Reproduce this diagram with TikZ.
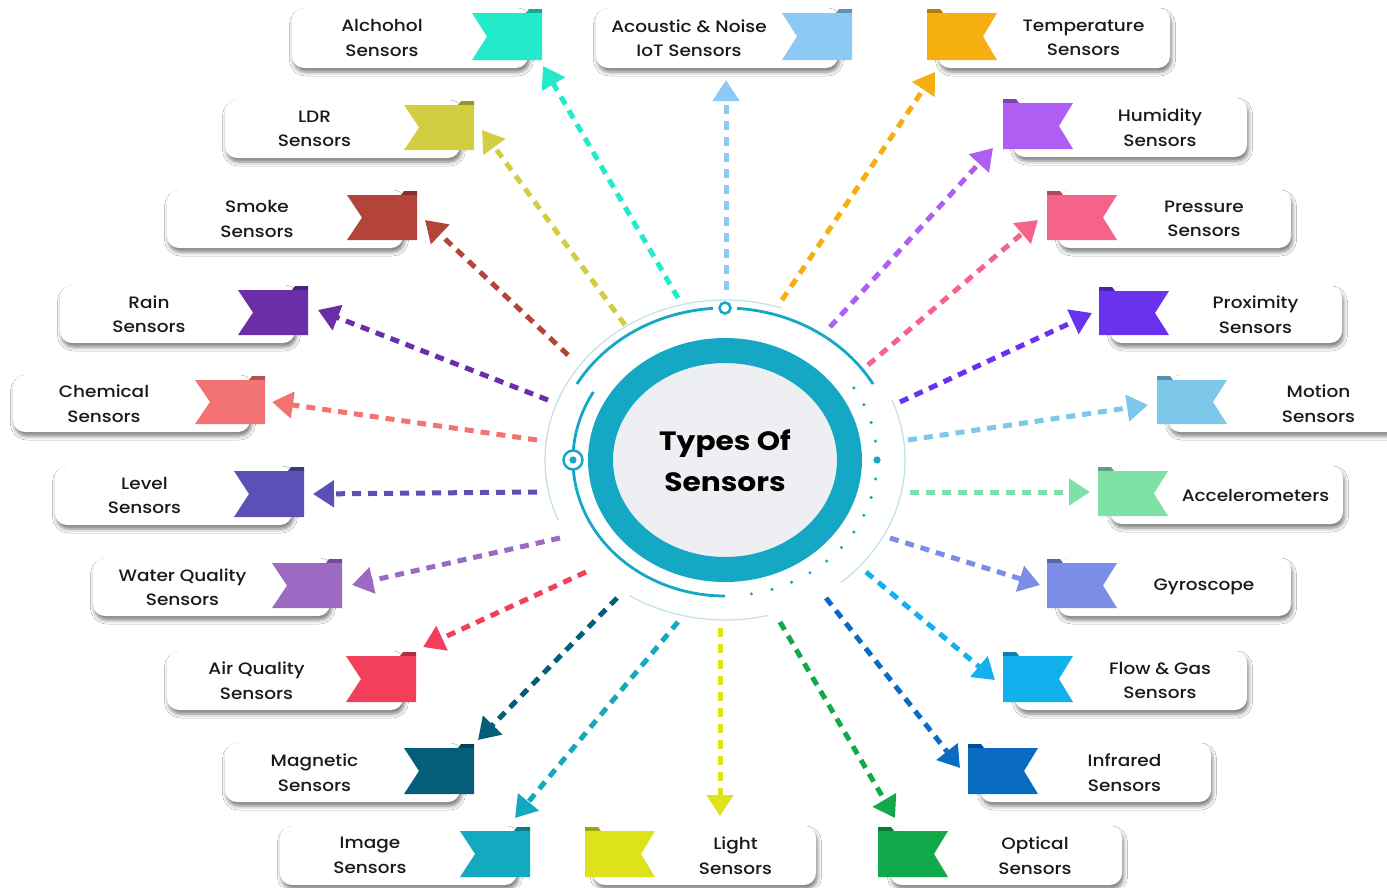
\documentclass[tikz,border=0pt]{standalone}
\usepackage{fontspec}
\setmainfont{Poppins}[FakeStretch=1.12]
\newfontfamily\labelfont{Poppins Medium}[FakeStretch=1.12]
\usetikzlibrary{arrows.meta,shadows.blur}
\definecolor{txt}{HTML}{1A1A1A}
\definecolor{ringc}{HTML}{14A8C4}
\definecolor{thinc}{HTML}{C3E0E8}
\definecolor{diskc}{HTML}{EEEFF2}
\definecolor{cAlc}{HTML}{22EACA}
\definecolor{cAco}{HTML}{8DC9F5}
\definecolor{cLdr}{HTML}{D3CD42}
\definecolor{cSmk}{HTML}{B4443A}
\definecolor{cRain}{HTML}{6B2EA6}
\definecolor{cChem}{HTML}{F37373}
\definecolor{cLvl}{HTML}{5A50B5}
\definecolor{cWq}{HTML}{9C6AC3}
\definecolor{cAq}{HTML}{F2405A}
\definecolor{cMag}{HTML}{055E79}
\definecolor{cImg}{HTML}{13A9BE}
\definecolor{cLgt}{HTML}{DDE21B}
\definecolor{cTmp}{HTML}{F6AF10}
\definecolor{cHum}{HTML}{AF5EF4}
\definecolor{cPrs}{HTML}{F6638A}
\definecolor{cPrx}{HTML}{6832EE}
\definecolor{cMot}{HTML}{7DC8EA}
\definecolor{cAcc}{HTML}{7EE1A7}
\definecolor{cGyr}{HTML}{7A8DE7}
\definecolor{cFlw}{HTML}{12B1EE}
\definecolor{cIr}{HTML}{0A6BC3}
\definecolor{cOpt}{HTML}{12A94B}
\tikzset{
  sbox/.style={rectangle, rounded corners=12pt, fill=white, inner sep=0pt,
    blur shadow={shadow xshift=1.5pt, shadow yshift=-4pt, shadow blur radius=4pt, shadow opacity=52}},
  stext/.style={font=\labelfont\fontsize{16.5}{24.5}\selectfont, text=txt, align=center, inner sep=0pt},
  conn/.style={line width=5pt, dash pattern=on 9pt off 7pt, -{Triangle[length=21pt,width=26pt]}},
}
% box with ribbon on its right end
\newcommand{\sensL}[8]{%
  \node[sbox, minimum width={(#4-#2)*1pt}, minimum height={(#5-#3)*1pt}] (#1) at ({(#2+#4)/2},{(#3+#5)/2}) {};
  \fill[#7!72!black] ({#6+54},{#3+5}) -- ({#6+57},{#3+1}) -- ({#6+70},{#3+1}) -- ({#6+70},{#3+5}) -- cycle;
  \fill[#7] (#6,{#3+5}) -- ({#6+70},{#3+5}) -- ({#6+70},{#5-8}) -- (#6,{#5-8}) -- ({#6+15},{(#3+#5)/2-1.5}) -- cycle;
  \node[stext] (#1-t) at ({(#2+#6)/2},{(#3+#5)/2}) {#8};
}
% box with ribbon on its left end
\newcommand{\sensR}[8]{%
  \node[sbox, minimum width={(#4-#2)*1pt}, minimum height={(#5-#3)*1pt}] (#1) at ({(#2+#4)/2},{(#3+#5)/2}) {};
  \fill[#7!72!black] (#6,{#3+1}) -- ({#6+13},{#3+1}) -- ({#6+16},{#3+5}) -- (#6,{#3+5}) -- cycle;
  \fill[#7] (#6,{#3+5}) -- ({#6+70},{#3+5}) -- ({#6+56},{(#3+#5)/2-1.5}) -- ({#6+70},{#5-8}) -- (#6,{#5-8}) -- cycle;
  \node[stext] (#1-t) at ({(#6+70+#4)/2},{(#3+#5)/2}) {#8};
}
\begin{document}
\begin{tikzpicture}[x=1pt,y=-1pt]
\fill[white] (0,0) rectangle (1387,887);
\useasboundingbox (0,0) rectangle (1387,887);

% ---- hub ----
\begin{scope}[shift={(725,460)}, yscale=-1]
  \draw[thinc, line width=1.2pt] (72:180 and 160) arc[start angle=72, end angle=202, x radius=180, y radius=160];
  \draw[thinc, line width=1.2pt] (22:180 and 160) arc[start angle=22, end angle=-50, x radius=180, y radius=160];
  \draw[thinc, line width=1.2pt] (-122:180 and 160) arc[start angle=-122, end angle=-76, x radius=180, y radius=160];
  \draw[ringc, line width=2.8pt] (30:171 and 152) arc[start angle=30, end angle=86, x radius=171, y radius=152];
  \draw[ringc, line width=2.8pt] (94:171 and 152) arc[start angle=94, end angle=150, x radius=171, y radius=152];
  \draw[ringc, line width=2.8pt] (150:152 and 136) arc[start angle=150, end angle=270, x radius=152, y radius=136];
  \foreach \a in {32,24,...,-80} \fill[ringc] (\a:152 and 136) circle (1.7);
  \fill[ringc] (0:152 and 136) circle (3.6);
  \draw[ringc, line width=2.5pt, fill=white] (0,152) circle (5.5);
  \draw[ringc, line width=2.5pt, fill=white] (-152,0) circle (9.5);
  \fill[ringc] (-152,0) circle (3.6);
  \fill[diskc] (0,0) ellipse [x radius=118, y radius=103];
  \draw[ringc, line width=25pt] (0,0) ellipse [x radius=124.5, y radius=109.5];
\end{scope}
\node[font=\fontsize{26.5}{41}\selectfont\bfseries, text=black, align=center] (title) at (725,461) {Types Of\\Sensors};

% ---- connector end points ----
\coordinate (s-alc) at (678,298);  \coordinate (e-alc) at (543,66);
\coordinate (s-aco) at (726,290);  \coordinate (e-aco) at (726,80);
\coordinate (s-ldr) at (625,325);  \coordinate (e-ldr) at (482,130);
\coordinate (s-smk) at (568,355);  \coordinate (e-smk) at (425,220);
\coordinate (s-rain) at (548,400); \coordinate (e-rain) at (318,310);
\coordinate (s-chem) at (537,440); \coordinate (e-chem) at (272,402);
\coordinate (s-lvl) at (537,492);  \coordinate (e-lvl) at (313,494);
\coordinate (s-wq) at (560,538);   \coordinate (e-wq) at (352,585);
\coordinate (s-aq) at (586,572);   \coordinate (e-aq) at (423,647);
\coordinate (s-mag) at (617,598);  \coordinate (e-mag) at (478,740);
\coordinate (s-img) at (678,622);  \coordinate (e-img) at (515,818);
\coordinate (s-lgt) at (720,628);  \coordinate (e-lgt) at (720,816);
\coordinate (s-tmp) at (782,300);  \coordinate (e-tmp) at (935,72);
\coordinate (s-hum) at (830,327);  \coordinate (e-hum) at (993,148);
\coordinate (s-prs) at (868,365);  \coordinate (e-prs) at (1038,220);
\coordinate (s-prx) at (900,402);  \coordinate (e-prx) at (1092,313);
\coordinate (s-mot) at (908,440);  \coordinate (e-mot) at (1148,405);
\coordinate (s-acc) at (910,492);  \coordinate (e-acc) at (1090,492);
\coordinate (s-gyr) at (890,538);  \coordinate (e-gyr) at (1040,585);
\coordinate (s-flw) at (866,572);  \coordinate (e-flw) at (995,680);
\coordinate (s-ir) at (826,598);   \coordinate (e-ir) at (960,768);
\coordinate (s-opt) at (780,622);  \coordinate (e-opt) at (895,818);

\draw[conn, cAlc] (s-alc) -- (e-alc);
\draw[conn, cAco] (s-aco) -- (e-aco);
\draw[conn, cLdr] (s-ldr) -- (e-ldr);
\draw[conn, cSmk] (s-smk) -- (e-smk);
\draw[conn, cRain] (s-rain) -- (e-rain);
\draw[conn, cChem] (s-chem) -- (e-chem);
\draw[conn, cLvl] (s-lvl) -- (e-lvl);
\draw[conn, cWq] (s-wq) -- (e-wq);
\draw[conn, cAq] (s-aq) -- (e-aq);
\draw[conn, cMag] (s-mag) -- (e-mag);
\draw[conn, cImg] (s-img) -- (e-img);
\draw[conn, cLgt] (s-lgt) -- (e-lgt);
\draw[conn, cTmp] (s-tmp) -- (e-tmp);
\draw[conn, cHum] (s-hum) -- (e-hum);
\draw[conn, cPrs] (s-prs) -- (e-prs);
\draw[conn, cPrx] (s-prx) -- (e-prx);
\draw[conn, cMot] (s-mot) -- (e-mot);
\draw[conn, cAcc] (s-acc) -- (e-acc);
\draw[conn, cGyr] (s-gyr) -- (e-gyr);
\draw[conn, cFlw] (s-flw) -- (e-flw);
\draw[conn, cIr] (s-ir) -- (e-ir);
\draw[conn, cOpt] (s-opt) -- (e-opt);

% ---- sensor boxes ----
\sensL{alc}{292}{8}{528}{68}{472}{cAlc}{Alchohol\\Sensors}
\sensL{aco}{596}{8}{838}{68}{782}{cAco}{Acoustic \& Noise\\IoT Sensors}
\sensL{ldr}{225}{100}{460}{158}{404}{cLdr}{LDR\\Sensors}
\sensL{smk}{167}{190}{403}{248}{347}{cSmk}{Smoke\\Sensors}
\sensL{rain}{60}{285}{295}{343}{238}{cRain}{Rain\\Sensors}
\sensL{chem}{13}{375}{250}{432}{195}{cChem}{Chemical\\Sensors}
\sensL{lvl}{55}{466}{292}{525}{234}{cLvl}{Level\\Sensors}
\sensL{wq}{93}{558}{330}{616}{272}{cWq}{Water Quality\\Sensors}
\sensL{aq}{167}{651}{403}{710}{346}{cAq}{Air Quality\\Sensors}
\sensL{mag}{225}{743}{460}{802}{404}{cMag}{Magnetic\\Sensors}
\sensL{img}{280}{826}{517}{885}{460}{cImg}{Image\\Sensors}

\sensR{tmp}{938}{8}{1170}{68}{927}{cTmp}{Temperature\\Sensors}
\sensR{hum}{1013}{98}{1247}{157}{1003}{cHum}{Humidity\\Sensors}
\sensR{prs}{1058}{190}{1291}{248}{1047}{cPrs}{Pressure\\Sensors}
\sensR{prx}{1110}{286}{1342}{343}{1099}{cPrx}{Proximity\\Sensors}
\sensR{mot}{1168}{375}{1410}{432}{1157}{cMot}{Motion\\Sensors}
\sensR{acc}{1110}{466}{1343}{524}{1098}{cAcc}{Accelerometers}
\sensR{gyr}{1058}{558}{1291}{616}{1047}{cGyr}{Gyroscope}
\sensR{flw}{1015}{651}{1247}{710}{1003}{cFlw}{Flow \& Gas\\Sensors}
\sensR{ir}{980}{743}{1211}{802}{968}{cIr}{Infrared\\Sensors}
\sensR{opt}{890}{826}{1122}{885}{878}{cOpt}{Optical\\Sensors}
\sensR{lgt}{593}{826}{816}{885}{585}{cLgt}{Light\\Sensors}
\end{tikzpicture}
\end{document}
